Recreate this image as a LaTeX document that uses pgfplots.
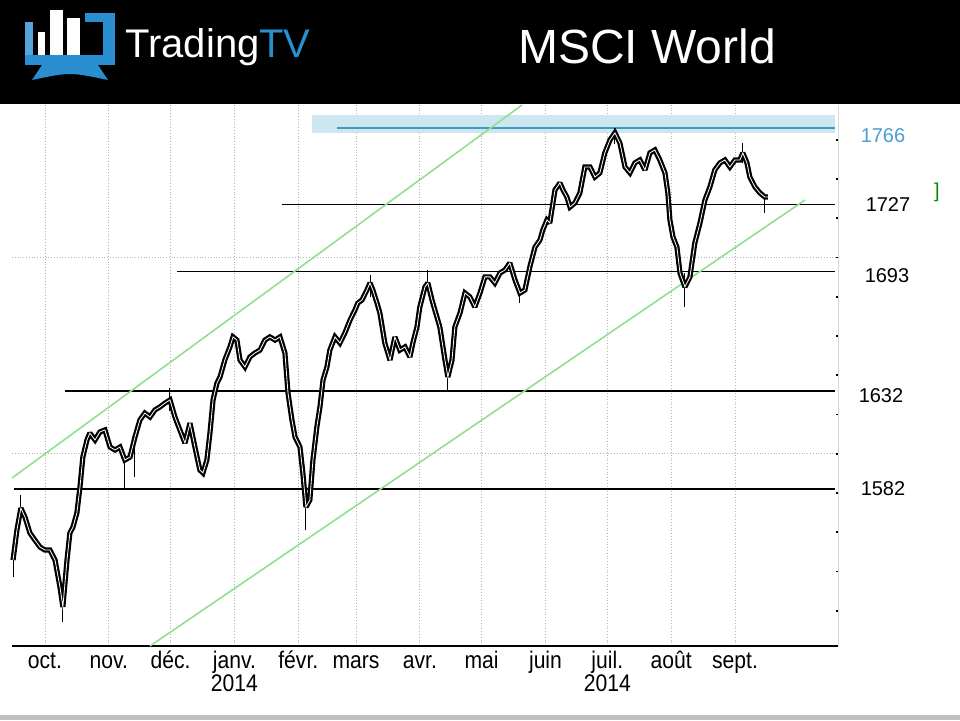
\documentclass[border=0pt]{standalone}
\usepackage{pgfplots}
\pgfplotsset{compat=1.18}
\usepackage{pgfplotstable}
\usepackage{fontspec}
\setmainfont{Liberation Sans}
\newfontfamily\narrowfont{Liberation Sans}[FakeStretch=0.88]
\definecolor{tvblue}{HTML}{2A8FD0}
\definecolor{bandblue}{HTML}{CDE6F0}
\definecolor{lineblue}{HTML}{3A9CC4}
\definecolor{lblblue}{HTML}{4A9FD0}
\definecolor{chgreen}{HTML}{8FE08F}
\newcommand\ms{\rule[-1pt]{0pt}{10pt}}
\setlength\lineskiplimit{-8pt}

\pgfplotstableread{
d v
-15.5 1545.8
-13.6 1561.1
-11.7 1572.3
-9.7 1567.7
-7.3 1559.6
-4.9 1556.0
-2.4 1552.4
0.0 1550.9
2.4 1550.9
4.9 1545.8
7.3 1532.0
8.7 1521.9
10.7 1545.8
12.1 1559.6
13.6 1562.6
15.5 1569.8
17.0 1583.0
18.4 1598.3
20.4 1607.0
21.8 1610.5
24.3 1607.0
26.7 1611.1
29.1 1612.1
31.6 1603.4
34.0 1601.9
36.4 1603.4
38.8 1596.8
41.3 1598.3
43.7 1608.5
46.1 1617.2
48.5 1620.7
51.0 1618.7
53.4 1622.3
55.8 1623.8
58.3 1625.8
60.7 1627.4
63.1 1618.7
65.5 1612.1
68.0 1605.4
70.4 1615.6
72.8 1603.4
75.2 1591.7
76.7 1590.2
78.6 1596.8
80.1 1610.5
81.6 1627.4
83.5 1636.0
85.0 1639.1
87.4 1648.0
89.8 1654.4
91.3 1659.5
93.2 1657.9
94.7 1647.7
97.1 1644.2
99.5 1649.3
101.9 1651.3
104.4 1652.8
106.8 1657.9
109.2 1659.5
111.7 1657.9
114.1 1659.5
116.5 1651.3
118.0 1630.9
119.9 1617.2
121.4 1608.5
123.8 1603.4
125.2 1590.2
126.7 1572.8
128.6 1576.4
130.1 1596.8
132.0 1613.6
133.5 1623.8
135.0 1637.6
136.9 1644.2
138.3 1652.8
140.8 1659.5
143.2 1656.4
145.6 1661.5
148.1 1668.1
150.5 1673.2
151.9 1676.8
153.9 1678.3
156.3 1683.4
157.8 1687.0
159.2 1683.4
161.2 1676.8
162.6 1671.7
165.0 1656.4
167.5 1647.7
169.9 1659.5
172.3 1652.8
174.8 1654.4
177.2 1649.3
178.6 1656.4
180.6 1664.6
182.0 1674.8
184.5 1685.0
185.9 1687.0
187.9 1678.3
189.3 1673.2
191.7 1664.6
194.2 1647.7
195.6 1639.1
197.6 1647.7
199.0 1664.6
201.5 1671.7
203.9 1681.9
206.3 1679.9
208.7 1674.8
211.2 1681.9
213.6 1690.1
216.0 1690.1
218.4 1687.0
220.9 1692.1
223.3 1693.6
225.7 1697.2
228.2 1688.5
230.6 1681.9
233.0 1683.4
235.4 1695.2
237.9 1705.3
240.3 1708.9
241.7 1714.0
243.7 1719.1
245.1 1717.6
247.6 1734.4
250.0 1738.0
251.5 1734.4
253.4 1730.8
254.9 1725.7
257.3 1727.8
259.7 1732.9
262.1 1746.1
264.6 1746.1
267.0 1741.0
269.4 1743.1
271.8 1753.3
274.3 1759.9
276.7 1763.5
279.1 1758.4
281.6 1746.1
284.0 1743.1
286.4 1748.2
288.8 1749.7
291.3 1744.6
293.7 1753.3
296.1 1754.8
298.5 1749.7
301.0 1743.1
302.4 1732.9
303.4 1719.1
304.9 1710.4
306.8 1705.3
308.3 1692.0
310.7 1685.0
313.1 1690.0
315.5 1707.4
318.0 1717.6
320.4 1729.3
322.8 1735.9
325.2 1744.6
327.7 1748.2
330.1 1749.7
332.5 1746.1
335.0 1749.7
337.4 1749.7
338.8 1753.3
340.8 1748.2
342.2 1741.0
344.7 1735.9
347.1 1732.9
349.5 1730.8
351.0 1730.8
}\closes

\begin{document}
\begin{tikzpicture}[x=0.5pt,y=0.5pt]
\fill[white] (0,0) rectangle (960,720);
\fill[black] (0,616) rectangle (960,720);
\fill[black!25] (0,0) rectangle (960,5);
% logo
\fill[tvblue!80!white] (25,665) rectangle (33,698);
\fill[tvblue] (25,655) rectangle (115,665);
\fill[tvblue] (103,655) rectangle (115,707);
\fill[tvblue] (85,698) rectangle (115,707);
\fill[white] (38,665) rectangle (45,688);
\fill[white] (50,665) rectangle (63,710);
\fill[white] (67,665) rectangle (80,702);
\fill[tvblue] (42,655) -- (98,655) -- (108,640) .. controls (70,648) .. (32,640) -- cycle;
\node[anchor=base west, inner sep=0, white, font=\fontsize{20}{24}\selectfont] at (125,663) {Trading\textcolor{tvblue}{TV}};
\node[white, font=\fontsize{24}{28}\selectfont] at (647,674) {MSCI World};
\node[text=green!55!black, font=\fontsize{10}{12}\selectfont] at (937,528) {]};

\begin{axis}[
  at={(6pt,37pt)}, anchor=south west, scale only axis,
  width=413pt, height=270.5pt,
  xmin=-16, xmax=385, ymin=1502, ymax=1777.7,
  axis x line*=bottom, axis y line*=right,
  x axis line style={black, line width=0.8pt, -},
  y axis line style={black!15, -},
  xtick={0,31,61,92,123,151,182,212,243,273,304,335},
  xticklabels={\ms oct.,\ms nov.,\ms déc.,{\ms janv.\\2014},\ms févr.,\ms mars,\ms avr.,\ms mai,\ms juin,{\ms juil.\\2014},\ms août,\ms sept.},
  xticklabel style={font=\narrowfont\fontsize{12}{11.6}\selectfont, align=center, inner sep=0pt, anchor=north, yshift=-2pt},
  xtick style={draw=none},
  ytick={1600,1700}, yticklabels={},
  minor ytick={1520,1540,1560,1580,1620,1640,1660,1680,1720,1740,1760},
  ytick style={black, line width=0.9pt},
  major tick length=1pt, minor tick length=1pt,
  xmajorgrids, ymajorgrids,
  grid style={densely dotted, black!30},
  clip=false,
]
% band and blue resistance
\addplot[fill=bandblue, draw=none] coordinates {(129.6,1763.5) (383.5,1763.5) (383.5,1772.6) (129.6,1772.6)} -- cycle;
\addplot[lineblue, line width=0.8pt] coordinates {(141.7,1766) (383.5,1766)};
% horizontal levels
\addplot[black, line width=0.6pt] coordinates {(115.0,1727) (383.5,1727)};
\addplot[black, line width=0.6pt] coordinates {(64.1,1693) (383.5,1693)};
\addplot[black, line width=0.6pt] coordinates {(9.7,1632) (383.5,1632)};
\addplot[black, line width=0.6pt] coordinates {(-15.0,1582) (383.5,1582)};
% channel
\addplot[chgreen, line width=0.8pt] coordinates {(-16,1587.6) (231.6,1777.7)};
\addplot[chgreen, line width=0.8pt] coordinates {(51,1502) (369,1729.3)};
% wicks
\addplot[black, line width=0.5pt, unbounded coords=jump] coordinates {
(-15.5,1537) (-15.5,1552) (nan,nan)
(-11.7,1566) (-11.7,1579) (nan,nan)
(8.7,1514) (8.7,1530) (nan,nan)
(38.8,1582.5) (38.8,1600) (nan,nan)
(43.7,1588) (43.7,1610) (nan,nan)
(60.7,1622) (60.7,1633.5) (nan,nan)
(126.7,1561) (126.7,1580) (nan,nan)
(157.8,1680) (157.8,1691) (nan,nan)
(185.9,1683) (185.9,1693.6) (nan,nan)
(195.6,1632.5) (195.6,1645) (nan,nan)
(230.6,1677) (230.6,1686) (nan,nan)
(276.7,1758) (276.7,1766) (nan,nan)
(310.7,1675) (310.7,1692) (nan,nan)
(338.8,1748) (338.8,1758.4) (nan,nan)
(349.5,1722.7) (349.5,1732)
};
% price
\addplot[black, line width=2.6pt, line join=miter, miter limit=2] table[x=d, y=v] {\closes};
\addplot[white, line width=0.4pt] table[x=d, y=v] {\closes};
% level labels
\node[text=lblblue, font=\fontsize{10}{12}\selectfont] at (axis cs:385,1766) [xshift=22.5pt, yshift=-4pt] {1766};
\node[font=\fontsize{10}{12}\selectfont] at (axis cs:385,1727) [xshift=25pt] {1727};
\node[font=\fontsize{10}{12}\selectfont] at (axis cs:385,1693) [xshift=24.5pt, yshift=-2pt] {1693};
\node[font=\fontsize{10}{12}\selectfont] at (axis cs:385,1632) [xshift=21.5pt, yshift=-2.5pt] {1632};
\node[font=\fontsize{10}{12}\selectfont] at (axis cs:385,1582) [xshift=22.5pt] {1582};
\end{axis}
\end{tikzpicture}
\end{document}
